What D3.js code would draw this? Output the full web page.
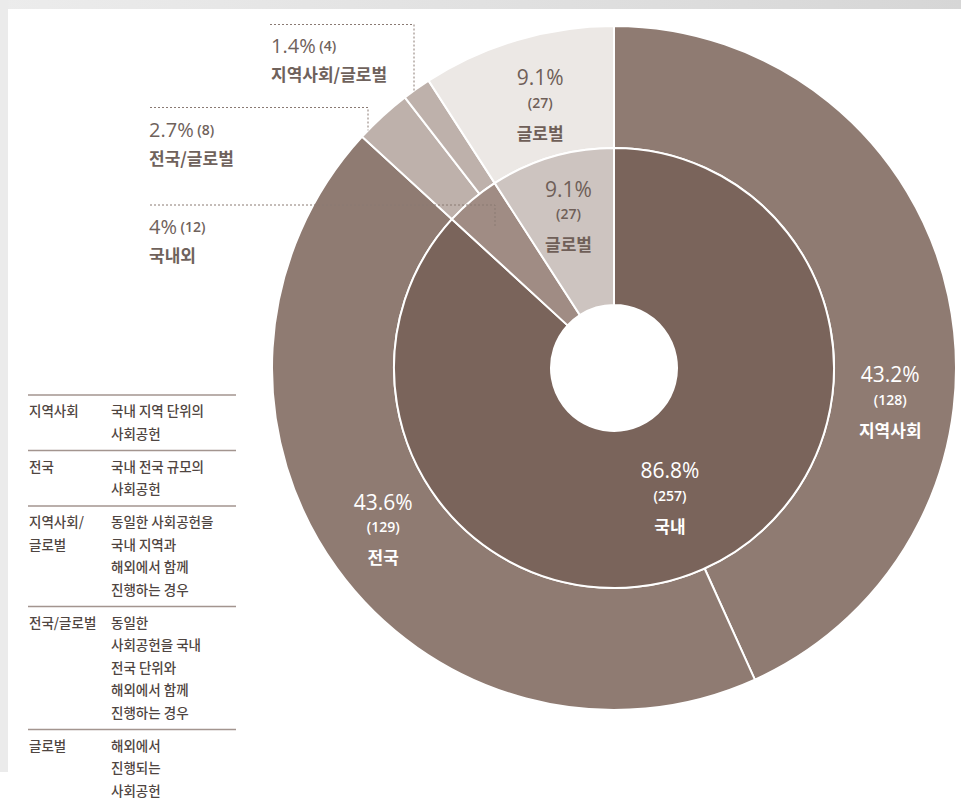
<!DOCTYPE html>
<html>
<head>
<meta charset="utf-8">
<script src="https://cdn.jsdelivr.net/npm/d3@7"></script>
<style>
  html, body { margin: 0; padding: 0; background: #fff; }
  svg { display: block; font-family: "Noto Sans CJK KR", "Noto Sans", sans-serif; }
  .num { font-family: "Open Sans", "Noto Sans", sans-serif; }
</style>
</head>
<body>
<div id="chart"></div>
<script>
// inner ring
const innerNames = ['국내', '국내외', '글로벌'];
const innerCounts = [257, 12, 27];
const innerPct = ['86.8%', '4%', '9.1%'];

// outer ring
const outerNames = ['지역사회', '전국', '전국/글로벌', '지역사회/글로벌', '글로벌'];
const outerCounts = [128, 129, 8, 4, 27];
const outerPct = ['43.2%', '43.6%', '2.7%', '1.4%', '9.1%'];

// legend table
const legendTerms = [['지역사회'], ['전국'], ['지역사회/', '글로벌'], ['전국/글로벌'], ['글로벌']];
const legendDescs = [
    ['국내 지역 단위의', '사회공헌'],
    ['국내 전국 규모의', '사회공헌'],
    ['동일한 사회공헌을', '국내 지역과', '해외에서 함께', '진행하는 경우'],
    ['동일한', '사회공헌을 국내', '전국 단위와', '해외에서 함께', '진행하는 경우'],
    ['해외에서', '진행되는', '사회공헌']
];

const width = 961;
const height = 798;
const cx = 614, cy = 368;
const rHole = 63, rInner = 220, rOuter = 342;

const innerColors = { '국내': '#7a645b', '국내외': '#a08c84', '글로벌': '#cdc4c0' };
const outerColors = { '지역사회': '#8f7b72', '전국': '#8f7b72', '전국/글로벌': '#beb1ab', '지역사회/글로벌': '#beb1ab', '글로벌': '#ece8e5' };

const svg = d3.select('#chart').append('svg')
    .attr('width', width)
    .attr('height', height);

// page edge shading (screenshot look)
const defs = svg.append('defs');
const gTop = defs.append('linearGradient').attr('id', 'gtop').attr('x1', 0).attr('x2', 1);
gTop.append('stop').attr('offset', 0).attr('stop-color', '#ececec');
gTop.append('stop').attr('offset', 1).attr('stop-color', '#d6d6d6');
svg.append('rect').attr('x', 0).attr('y', 0).attr('width', width).attr('height', 9).attr('fill', 'url(#gtop)');
svg.append('rect').attr('x', 0).attr('y', 0).attr('width', 8).attr('height', 772).attr('fill', '#ebebeb');

const pie = d3.pie().sort(null).value(d => d.count);
const innerData = pie(innerNames.map((n, i) => ({ name: n, count: innerCounts[i], pct: innerPct[i] })));
const outerData = pie(outerNames.map((n, i) => ({ name: n, count: outerCounts[i], pct: outerPct[i] })));

const innerArc = d3.arc().innerRadius(rHole).outerRadius(rInner);
const outerArc = d3.arc().innerRadius(rInner).outerRadius(rOuter);

const g = svg.append('g').attr('transform', `translate(${cx},${cy})`);

g.selectAll('.outer')
    .data(outerData)
    .enter().append('path')
    .attr('class', 'outer')
    .attr('d', outerArc)
    .attr('fill', d => outerColors[d.data.name])
    .attr('stroke', '#fff')
    .attr('stroke-width', 2);

g.selectAll('.inner')
    .data(innerData)
    .enter().append('path')
    .attr('class', 'inner')
    .attr('d', innerArc)
    .attr('fill', d => innerColors[d.data.name])
    .attr('stroke', '#fff')
    .attr('stroke-width', 2);

// in-segment labels: radius and angle nudge per label
const labelLayout = {
    'inner-국내': { r: 139, da: 0, color: '#fff' },
    'inner-글로벌': { r: 161, da: 0, color: '#6f5f58' },
    'outer-지역사회': { r: 278, da: 18.6, color: '#fff' },
    'outer-전국': { r: 280, da: 1.4, color: '#fff' },
    'outer-글로벌': { r: 276, da: 0.9, color: '#6f5f58' }
};

function drawLabel(d, ring) {
    const lay = labelLayout[ring + '-' + d.data.name];
    if (!lay) return;
    const a = (d.startAngle + d.endAngle) / 2 + lay.da * Math.PI / 180;
    const x = lay.r * Math.sin(a);
    const y = -lay.r * Math.cos(a);
    const t = g.append('g').attr('transform', `translate(${x},${y})`)
        .attr('fill', lay.color)
        .attr('text-anchor', 'middle')
        .attr('dominant-baseline', 'central');
    t.append('text').attr('class', 'num').attr('y', -25).attr('font-size', 21).text(d.data.pct);
    t.append('text').attr('class', 'num').attr('y', 0).attr('font-size', 14).attr('font-weight', 600).text(`(${d.data.count})`);
    t.append('text').attr('y', 30).attr('font-size', 17).attr('font-weight', 700).text(d.data.name);
}
innerData.forEach(d => drawLabel(d, 'inner'));
outerData.forEach(d => drawLabel(d, 'outer'));

// callouts for the small segments
const callouts = [
    { ring: outerData, name: '지역사회/글로벌', tx: 271, ty: 45, lx0: 270, ly: 24.5, lx1: 414, r: rOuter },
    { ring: outerData, name: '전국/글로벌', tx: 149, ty: 129, lx0: 150, ly: 107.5, lx1: 368, r: rOuter },
    { ring: innerData, name: '국내외', tx: 149, ty: 226, lx0: 150, ly: 205, lx1: 495, r: 185 }
];

callouts.forEach(c => {
    const d = c.ring.find(s => s.data.name === c.name);
    const dx = c.lx1 - cx;
    const yEnd = cy - Math.sqrt(c.r * c.r - dx * dx);
    svg.append('path')
        .attr('d', `M${c.lx0},${c.ly}H${c.lx1}V${yEnd}`)
        .attr('fill', 'none')
        .attr('stroke', '#8a7a73')
        .attr('stroke-width', 1)
        .attr('stroke-dasharray', '2,2');
    const t = svg.append('text')
        .attr('class', 'num')
        .attr('x', c.tx).attr('y', c.ty)
        .attr('dominant-baseline', 'central')
        .attr('fill', '#6f625c');
    t.append('tspan').attr('font-size', 20).text(d.data.pct);
    t.append('tspan').attr('font-size', 14).attr('font-weight', 600).text(` (${d.data.count})`);
    svg.append('text')
        .attr('x', c.tx).attr('y', c.ty + 28)
        .attr('dominant-baseline', 'central')
        .attr('fill', '#6f625c')
        .attr('font-size', 17)
        .attr('font-weight', 700)
        .text(c.name);
});

// legend table
const lgX0 = 28, lgX1 = 236, lgDesc = 111, lineH = 22.5;
let ruleY = 395;
legendTerms.forEach((term, i) => {
    svg.append('line')
        .attr('x1', lgX0).attr('x2', lgX1)
        .attr('y1', ruleY).attr('y2', ruleY)
        .attr('stroke', '#a3958f')
        .attr('stroke-width', 1.5);
    term.forEach((s, j) => {
        svg.append('text')
            .attr('x', lgX0 + 1).attr('y', ruleY + 15 + j * lineH)
            .attr('dominant-baseline', 'central')
            .attr('font-size', 13.5).attr('font-weight', 500)
            .attr('fill', '#4f4541')
            .text(s);
    });
    legendDescs[i].forEach((s, j) => {
        svg.append('text')
            .attr('x', lgDesc).attr('y', ruleY + 15 + j * lineH)
            .attr('dominant-baseline', 'central')
            .attr('font-size', 13.5).attr('font-weight', 500)
            .attr('fill', '#4f4541')
            .text(s);
    });
    ruleY += legendDescs[i].length * lineH + 10.5;
});
</script>
</body>
</html>
